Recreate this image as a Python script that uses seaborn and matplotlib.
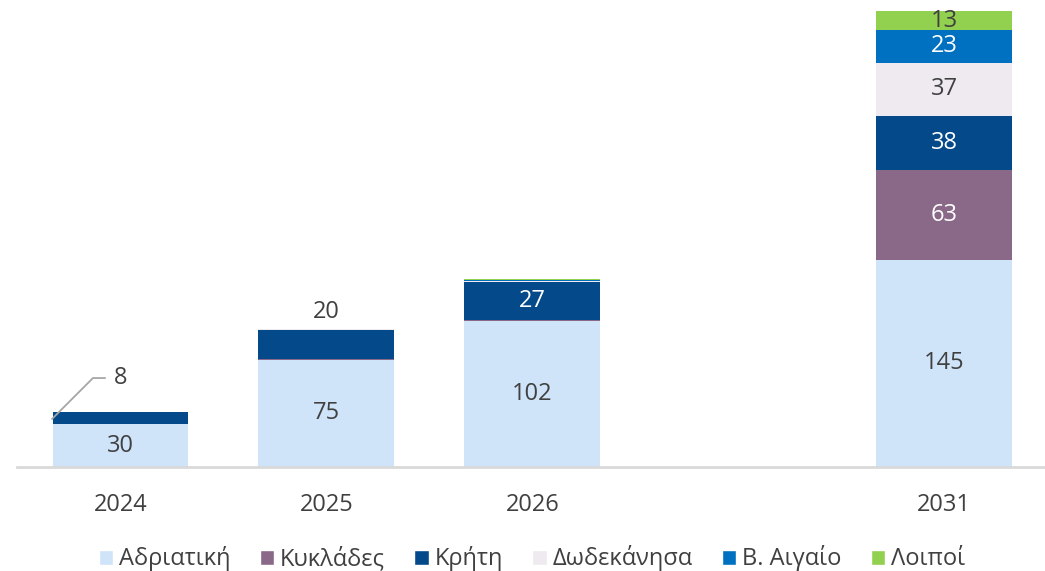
import numpy as np
import seaborn as sns
import matplotlib.pyplot as plt
from matplotlib.patches import Patch

years = ['2024', '2025', '2026', ' ', '2031']
series = ['Αδριατική', 'Κυκλάδες', 'Κρήτη', 'Δωδεκάνησα', 'Β. Αιγαίο', 'Λοιποί']
adriatiki = [30, 75, 102, 0, 145]
kyklades = [0.3, 0.8, 0.8, 0, 63]
kriti = [8, 20, 27, 0, 38]
dodekanisa = [0, 0.7, 0.7, 0, 37]
v_aigaio = [0, 0, 0.6, 0, 23]
loipoi = [0, 0.4, 0.3, 0, 13]

colors = ['#CFE3F9', '#8A6887', '#044A8A', '#EEEAF0', '#0070C0', '#92D050']
text_colors = ['#404040', 'white', 'white', '#404040', 'white', '#404040']
data = [adriatiki, kyklades, kriti, dodekanisa, v_aigaio, loipoi]

sns.set_style('white')
plt.rcParams['font.family'] = ['Open Sans', 'DejaVu Sans']
fs = 17

fig = plt.figure(figsize=(10.45, 5.71), dpi=100)
ax = fig.add_axes([17 / 1045, 104 / 571, 1030 / 1045, 457 / 571])

bottom = np.zeros(len(years))
for name, vals, col, tc in zip(series, data, colors, text_colors):
    vals = np.array(vals, dtype=float)
    sns.barplot(x=years, y=vals, bottom=bottom, color=col, width=0.66,
                linewidth=0, saturation=1, ax=ax)
    for i, v in enumerate(vals):
        if v >= 10 and not (name == 'Κρήτη' and years[i] == '2025'):
            ax.text(i, bottom[i] + v / 2, f'{v:.0f}', ha='center', va='center',
                    color=tc, fontsize=fs)
    bottom += vals

# labels placed outside the bars
ax.text(0, 62, '8', ha='center', va='center', color='#404040', fontsize=fs)
ax.plot([-0.333, -0.134, -0.075], [33.6, 62.3, 62.3], color='#A6A6A6', lw=1.3,
        clip_on=False)
ax.text(1, 108.5, '20', ha='center', va='center', color='#404040', fontsize=fs)

ax.set_xlim(-0.503, 4.5)
ax.set_ylim(0, 320)
ax.set_yticks([])
ax.set_xlabel('')
ax.set_ylabel('')
for s in ['top', 'right', 'left']:
    ax.spines[s].set_visible(False)
ax.spines['bottom'].set_color('#D9D9D9')
ax.spines['bottom'].set_linewidth(2)
ax.tick_params(axis='x', length=0, labelsize=fs, labelcolor='#404040', pad=19)

handles = [Patch(facecolor=c, label=n) for n, c in zip(series, colors)]
ax.legend(handles=handles, loc='center', bbox_to_anchor=(0.5, -0.2),
          ncol=6, frameon=False, fontsize=fs, handlelength=0.6,
          handleheight=0.6, handletextpad=0.25, columnspacing=1.25,
          labelcolor='#404040')

fig.savefig('out.png', dpi=100)
